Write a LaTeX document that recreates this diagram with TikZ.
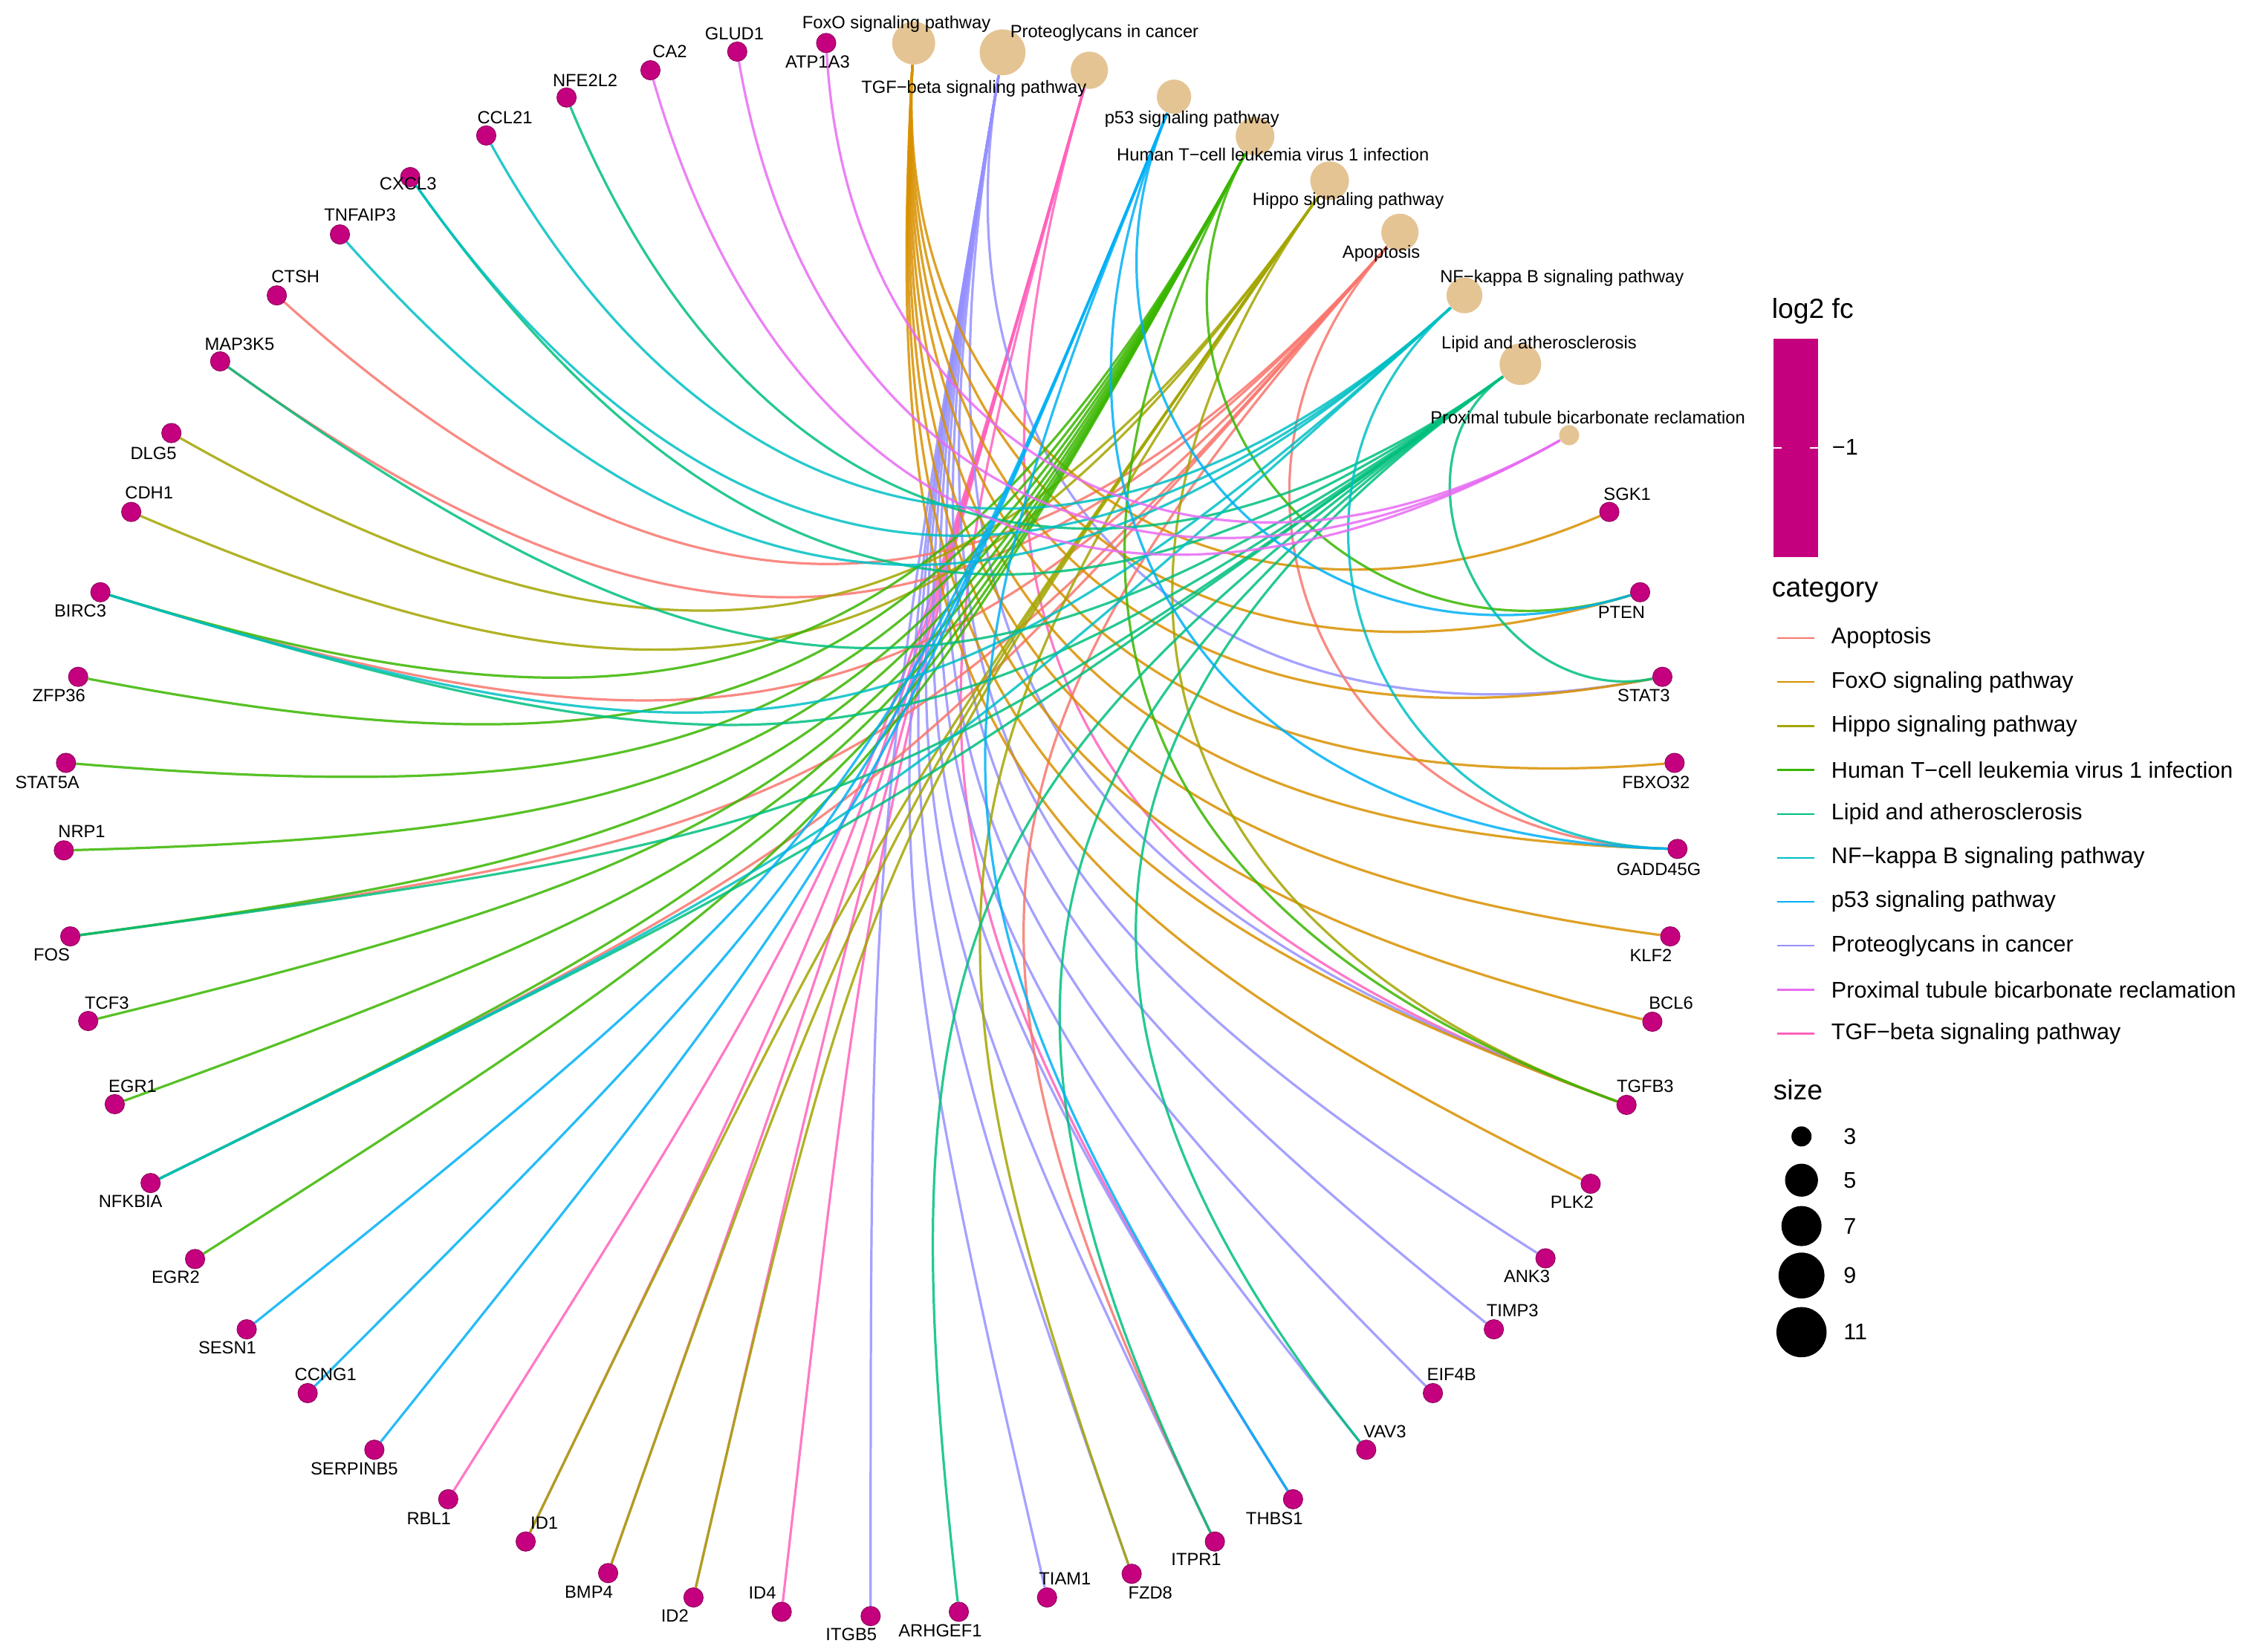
\documentclass[tikz,border=0pt]{standalone}
\usepackage{fontspec}
\setmainfont{Liberation Sans}
\usetikzlibrary{calc}
\pgfdeclarelayer{bg}
\pgfsetlayers{bg,main}

\definecolor{colapop}{HTML}{F8766D}
\definecolor{colfoxo}{HTML}{D89000}
\definecolor{colhippo}{HTML}{A3A500}
\definecolor{colhtlv}{HTML}{39B600}
\definecolor{collipid}{HTML}{00BF7D}
\definecolor{colnfkb}{HTML}{00BFC4}
\definecolor{colp53}{HTML}{00B0F6}
\definecolor{colproteo}{HTML}{9590FF}
\definecolor{colprox}{HTML}{E76BF3}
\definecolor{coltgfb}{HTML}{FF62BC}
\definecolor{genefill}{HTML}{C5007F}
\definecolor{catfill}{HTML}{E5C494}

\tikzset{
  genenode/.style={circle, fill=genefill, draw=genefill!75!black, line width=0.3pt, minimum size=0.27cm, inner sep=0pt},
  pathnode/.style={circle, fill=catfill, inner sep=0pt, minimum size=#1},
  nodelab/.style={font=\fontsize{7}{8}\selectfont, inner sep=0pt},
  legtext/.style={font=\fontsize{9}{10}\selectfont, anchor=west, inner sep=0pt},
  legtitle/.style={font=\fontsize{11}{12}\selectfont, anchor=west, inner sep=0pt},
  cnetlink/.style={line width=0.95pt, opacity=0.85},
}

\begin{document}
\begin{tikzpicture}[x=0.02cm, y=-0.02cm]
  \useasboundingbox (0,0) rectangle (1568,1152);
  % centre of the circular layout (radii 562 x 549)
  \coordinate (ctr) at (607,578);

  % pathway nodes
  \node[pathnode=0.60cm] (foxo) at (637,30) {};
  \node[pathnode=0.64cm] (proteo) at (699,36.5) {};
  \node[pathnode=0.52cm] (tgfb) at (759.5,49) {};
  \node[pathnode=0.48cm] (p53) at (818.5,67.5) {};
  \node[pathnode=0.54cm] (htlv) at (875,95) {};
  \node[pathnode=0.54cm] (hippo) at (927,126) {};
  \node[pathnode=0.52cm] (apop) at (976,162) {};
  \node[pathnode=0.50cm] (nfkb) at (1021,206) {};
  \node[pathnode=0.58cm] (lipid) at (1060,254) {};
  \node[pathnode=0.28cm] (prox) at (1094,303.5) {};

  % gene nodes and their labels
  \foreach \g/\x/\y/\lx/\ly in {
    ATP1A3/576/30/570/43, GLUD1/514/36/512/23.5, CA2/453.5/49/467/36,
    NFE2L2/395/68/408/56, CCL21/339/94.5/352/82, CXCL3/286/123.5/284.5/128,
    TNFAIP3/237/163.5/251/150, CTSH/193/206/206/193, MAP3K5/153.5/252/167/240,
    DLG5/119.5/302/107/316, CDH1/91.5/357/104/343.5, BIRC3/70/413/56/426,
    ZFP36/54.5/472/41/485, STAT5A/46/532/33/545.5, NRP1/44.5/593/57/580,
    FOS/49/653/36/666, TCF3/61.5/712/74.5/699.5, EGR1/80/770/92.5/757.5,
    NFKBIA/105/825/91/838, EGR2/136/878/122.5/890.5, SESN1/172/927/158.5/940,
    CCNG1/214.5/971.5/227/958.5, SERPINB5/261/1011/247/1024, RBL1/312.5/1045.5/299/1059,
    ID1/366.5/1075/379.5/1062, BMP4/424/1097/410.5/1110, ID2/483.5/1114/470.5/1127,
    ID4/545/1124/531.5/1111, ITGB5/607/1127/593.5/1140, ARHGEF1/668.5/1124/655.5/1137,
    TIAM1/730/1114/742.5/1101, FZD8/789/1097.5/802/1111, ITPR1/847/1075/834/1087.5,
    THBS1/901.5/1045.5/888.5/1059, VAV3/952.5/1011/965.5/998.5, EIF4B/999/971.5/1012/958.5,
    TIMP3/1041.5/927/1054.5/914, ANK3/1077.5/877.5/1064.5/890, PLK2/1109/825.5/1096/838,
    TGFB3/1134/770.5/1147/757.5, BCL6/1152/712.5/1165/699.5, KLF2/1164.5/653/1151/666.5,
    GADD45G/1169.5/592/1156.5/606, FBXO32/1167.5/532/1154.5/545.5, STAT3/1159/472/1146/485,
    PTEN/1143.5/413/1130.5/427, SGK1/1122/357/1134.5/344.5}
  {
    \node[genenode] (\g) at (\x,\y) {};
    \node[nodelab] (l\g) at (\lx,\ly) {\g};
  }

  % pathway labels
  \node[nodelab] (lfoxo) at (625,17) {FoxO signaling pathway};
  \node[nodelab] (lproteo) at (770,23) {Proteoglycans in cancer};
  \node[nodelab] (ltgfb) at (679,62) {TGF−beta signaling pathway};
  \node[nodelab] (lp53) at (831,83) {p53 signaling pathway};
  \node[nodelab] (lhtlv) at (887.5,108) {Human T−cell leukemia virus 1 infection};
  \node[nodelab] (lhippo) at (940,140) {Hippo signaling pathway};
  \node[nodelab] (lapop) at (963,177) {Apoptosis};
  \node[nodelab] (lnfkb) at (1089,194) {NF−kappa B signaling pathway};
  \node[nodelab] (llipid) at (1073,240) {Lipid and atherosclerosis};
  \node[nodelab] (lprox) at (1107,291) {Proximal tubule bicarbonate reclamation};

  % gene--pathway links: control points pulled toward the centre by half the chord
  \begin{pgfonlayer}{bg}
  \foreach \pw/\gn in {
    tgfb/RBL1, tgfb/ID4, tgfb/ID1, tgfb/BMP4, tgfb/ID2, tgfb/THBS1, tgfb/TGFB3,
    proteo/ITGB5, proteo/TIAM1, proteo/FZD8, proteo/ITPR1, proteo/THBS1, proteo/EIF4B, proteo/TIMP3, proteo/ANK3, proteo/STAT3, proteo/TGFB3, proteo/VAV3,
    apop/CTSH, apop/MAP3K5, apop/BIRC3, apop/FOS, apop/NFKBIA, apop/ITPR1, apop/GADD45G,
    foxo/SGK1, foxo/PTEN, foxo/STAT3, foxo/FBXO32, foxo/GADD45G, foxo/KLF2, foxo/BCL6, foxo/TGFB3, foxo/PLK2,
    hippo/DLG5, hippo/CDH1, hippo/ID1, hippo/BMP4, hippo/ID2, hippo/FZD8, hippo/TGFB3,
    htlv/ZFP36, htlv/STAT5A, htlv/NRP1, htlv/FOS, htlv/TCF3, htlv/EGR1, htlv/NFKBIA, htlv/EGR2, htlv/BIRC3, htlv/PTEN, htlv/TGFB3,
    lipid/NFE2L2, lipid/CXCL3, lipid/MAP3K5, lipid/BIRC3, lipid/FOS, lipid/NFKBIA, lipid/ITPR1, lipid/VAV3, lipid/ARHGEF1, lipid/STAT3,
    nfkb/CCL21, nfkb/CXCL3, nfkb/TNFAIP3, nfkb/BIRC3, nfkb/NFKBIA, nfkb/GADD45G,
    p53/SESN1, p53/CCNG1, p53/SERPINB5, p53/THBS1, p53/PTEN, p53/GADD45G,
    prox/ATP1A3, prox/GLUD1, prox/CA2}
  {
    \path (\pw); \pgfgetlastxy{\ax}{\ay}
    \path (\gn); \pgfgetlastxy{\bx}{\by}
    \pgfmathsetmacro{\pull}{min(1,veclen((\bx-\ax)/3.186,(\by-\ay)/3.112)/200)}
    \draw[cnetlink, col\pw] (\pw) .. controls ($(\pw)!\pull!(ctr)$) and ($(\gn)!\pull!(ctr)$) .. (\gn);
  }
  \end{pgfonlayer}

  % legend: colour bar
  \node[legtitle] (tfc) at (1235,217) {log2 fc};
  \node[fill=genefill, minimum width=0.62cm, minimum height=3.04cm, inner sep=0pt, anchor=north west] (bar) at (1236,236) {};
  \draw[white, line width=0.5pt] (bar.west) -- ++(6,0);
  \draw[white, line width=0.5pt] (bar.east) -- ++(-6,0);
  \node[legtext] (tick) at (1277,312) {−1};

  % legend: category
  \node[legtitle] (tcat) at (1235,412) {category};
  \foreach \c/\t [count=\i from 0] in {apop/Apoptosis, foxo/FoxO signaling pathway, hippo/Hippo signaling pathway,
    htlv/Human T−cell leukemia virus 1 infection, lipid/Lipid and atherosclerosis, nfkb/NF−kappa B signaling pathway,
    p53/p53 signaling pathway, proteo/Proteoglycans in cancer, prox/Proximal tubule bicarbonate reclamation,
    tgfb/TGF−beta signaling pathway}
  {
    \coordinate (k\i) at (1239,445+30.65*\i);
    \draw[col\c, line width=0.7pt] (k\i) -- ++(26,0);
    \node[legtext] (kt\i) at (1276.5,445+30.65*\i) {\t};
  }

  % legend: size
  \node[legtitle] (tsize) at (1236,760) {size};
  \foreach \s/\y/\r in {3/792.5/7, 5/823/11.5, 7/855/14, 9/889.5/16, 11/929/17.5}
  {
    \node[circle, fill=black, inner sep=0pt, minimum size=\r*0.04cm] (s\s) at (1256,\y) {};
    \node[legtext] (st\s) at (1285,\y) {\s};
  }
\end{tikzpicture}
\end{document}
